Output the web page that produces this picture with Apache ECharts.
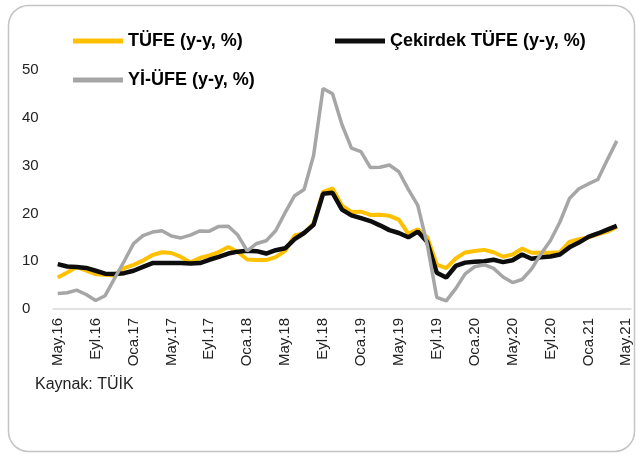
<!DOCTYPE html>
<html>
<head>
<meta charset="utf-8">
<script src="https://cdn.jsdelivr.net/npm/echarts@6/dist/echarts.min.js"></script>
<style>
  html, body { margin: 0; padding: 0; background: #fff; }
  #chart { width: 636px; height: 455px; }
</style>
</head>
<body>
<div id="chart"></div>
<script>
  // aylar: May.16 - May.21 (son ay bos)
  var monthNames = ['Oca','Şub','Mar','Nis','May','Haz','Tem','Ağu','Eyl','Eki','Kas','Ara'];
  var startYear = 16, startMonth = 4, monthCount = 61;
  var yTicks = [0, 10, 20, 30, 40, 50];

  var tufe = [
    6.58, 7.64, 8.79, 8.05, 7.28, 7.16, 7.00, 8.53,
    9.22, 10.13, 11.29, 11.87, 11.72, 10.90, 9.79, 10.68, 11.20, 11.90, 12.98, 11.92,
    10.35, 10.26, 10.23, 10.85, 12.15, 15.39, 15.85, 17.90, 24.52, 25.24, 21.62, 20.30,
    20.35, 19.67, 19.71, 19.50, 18.71, 15.72, 16.65, 15.01, 9.26, 8.55, 10.56, 11.84,
    12.15, 12.37, 11.86, 10.94, 11.39, 12.62, 11.76, 11.77, 11.75, 11.89, 14.03, 14.60,
    14.97, 15.61, 16.19, 17.14
  ];
  var cekirdek = [
    9.4, 8.9, 8.8, 8.6, 8.0, 7.4, 7.3, 7.5,
    8.0, 8.8, 9.6, 9.6, 9.6, 9.6, 9.5, 9.6, 10.3, 10.9, 11.6, 12.0,
    12.2, 12.1, 11.6, 12.3, 12.7, 14.6, 15.9, 17.6, 24.1, 24.3, 20.8, 19.6,
    19.0, 18.4, 17.5, 16.5, 15.9, 15.0, 16.2, 14.0, 7.6, 6.6, 9.0, 9.7,
    9.9, 10.0, 10.3, 9.8, 10.2, 11.4, 10.5, 10.8, 11.0, 11.4, 12.9, 13.9,
    15.1, 15.8, 16.6, 17.4
  ];
  var yiufe = [
    3.25, 3.41, 3.96, 3.03, 1.78, 2.78, 6.41, 9.94,
    13.69, 15.36, 16.09, 16.37, 15.26, 14.87, 15.45, 16.34, 16.28, 17.28, 17.30, 15.47,
    12.14, 13.71, 14.28, 16.37, 20.16, 23.71, 25.00, 32.13, 46.15, 45.01, 38.54, 33.64,
    32.93, 29.59, 29.64, 30.12, 28.71, 25.04, 21.66, 13.45, 2.45, 1.70, 4.26, 7.36,
    8.84, 9.26, 8.50, 6.71, 5.53, 6.17, 8.33, 11.53, 14.33, 18.20, 23.11, 25.15,
    26.16, 27.09, 31.20, 35.17
  ];

  var categories = [];
  for (var i = 0; i < monthCount; i++) {
    var m = (startMonth + i) % 12;
    var y = startYear + Math.floor((startMonth + i) / 12);
    categories.push(monthNames[m] + '.' + y);
  }

  var legendText = {
    fontFamily: 'Liberation Sans, Arial, sans-serif',
    fontWeight: 'bold',
    fontSize: 18,
    color: '#000'
  };

  var myChart = echarts.init(document.getElementById('chart'), null, {renderer: 'canvas'});
  var option = {
    animation: false,
    backgroundColor: '#fff',
    color: ['#FFC000', '#0d0d0d', '#A6A6A6'],
    graphic: [
      {
        type: 'rect',
        shape: {x: 8.5, y: 5.5, width: 626, height: 446, r: 20},
        style: {fill: 'none', stroke: '#c4c4c4', lineWidth: 1.5},
        silent: true
      },
      {
        type: 'text',
        left: 35,
        top: 377,
        style: {
          text: 'Kaynak: TÜİK',
          font: '16px "Liberation Sans", Arial, sans-serif',
          fill: '#222'
        }
      }
    ],
    legend: [
      {
        data: ['TÜFE (y-y, %)'],
        left: 73, top: 32, padding: 0,
        icon: 'rect', itemWidth: 50, itemHeight: 5,
        textStyle: legendText
      },
      {
        data: ['Çekirdek TÜFE (y-y, %)'],
        left: 335, top: 32, padding: 0,
        icon: 'rect', itemWidth: 50, itemHeight: 5,
        textStyle: legendText
      },
      {
        data: ['Yİ-ÜFE (y-y, %)'],
        left: 73, top: 71, padding: 0,
        icon: 'rect', itemWidth: 50, itemHeight: 5,
        textStyle: legendText
      }
    ],
    grid: {
      left: 53,
      right: 5,
      top: 70,
      bottom: 146
    },
    xAxis: {
      type: 'category',
      boundaryGap: true,
      data: categories,
      axisLine: {lineStyle: {color: '#d9d9d9', width: 1.5}},
      axisTick: {show: false},
      axisLabel: {
        interval: 3,
        rotate: 90,
        margin: 9,
        fontSize: 15,
        color: '#222',
        fontFamily: 'Liberation Sans, Arial, sans-serif'
      }
    },
    yAxis: {
      type: 'value',
      min: yTicks[0],
      max: yTicks[yTicks.length - 1],
      interval: 10,
      axisLine: {show: false},
      axisTick: {show: false},
      splitLine: {show: false},
      axisLabel: {
        align: 'left',
        margin: 31,
        fontSize: 15,
        color: '#222',
        fontFamily: 'Liberation Sans, Arial, sans-serif'
      }
    },
    series: [
      {
        name: 'TÜFE (y-y, %)',
        type: 'line',
        data: tufe,
        symbol: 'none',
        lineStyle: {width: 4, color: '#FFC000'}
      },
      {
        name: 'Çekirdek TÜFE (y-y, %)',
        type: 'line',
        data: cekirdek,
        symbol: 'none',
        lineStyle: {width: 4.5, color: '#0d0d0d'}
      },
      {
        name: 'Yİ-ÜFE (y-y, %)',
        type: 'line',
        data: yiufe,
        symbol: 'none',
        lineStyle: {width: 3.5, color: '#A6A6A6'}
      }
    ]
  };
  myChart.setOption(option);
  window.onresize = myChart.resize;
</script>
</body>
</html>
